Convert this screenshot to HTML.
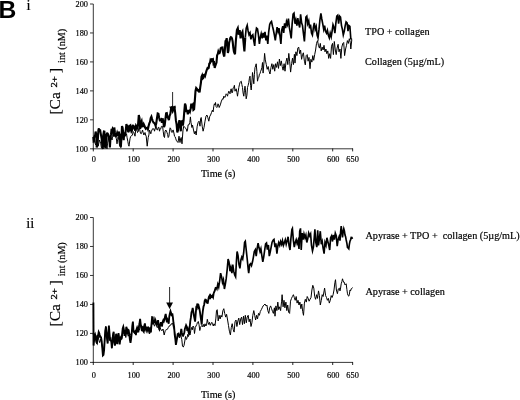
<!DOCTYPE html>
<html><head><meta charset="utf-8"><title>Figure B</title>
<style>
html,body{margin:0;padding:0;background:#fff;}
body{width:520px;height:400px;overflow:hidden;position:relative;}
svg{position:absolute;left:0;top:0;display:block;}
text{font-family:"Liberation Serif",serif;fill:#000;stroke:#000;stroke-width:0.18px;}
.tk{font-size:8.3px;}
.lb{font-size:10.2px;}
.big{font-size:15.5px;}
.sup{font-size:7.9px;stroke-width:0.3px;}
.sub{font-size:10.1px;}
.B{font-family:"Liberation Sans",sans-serif;font-weight:bold;font-size:24.7px;fill:#000;stroke:none;}
.rn{font-size:14.5px;}
</style></head><body>
<svg width="520" height="400" viewBox="0 0 520 400">
<rect width="520" height="400" fill="#fff"/>
<text x="-1.5" y="18.4" class="B">B</text>
<text x="26.6" y="9.7" class="rn">i</text>
<text x="26.2" y="227.8" class="rn">ii</text>
<!-- chart 1 -->
<line x1="93.3" y1="4" x2="93.3" y2="149.3" stroke="#222" stroke-width="0.9"/>
<line x1="92.8" y1="148.8" x2="353" y2="148.8" stroke="#222" stroke-width="0.9"/>
<line x1="90" y1="148.80" x2="93.3" y2="148.80" stroke="#222" stroke-width="0.9"/>
<text x="88.0" y="151.70" text-anchor="end" class="tk">100</text>
<line x1="90" y1="119.84" x2="93.3" y2="119.84" stroke="#222" stroke-width="0.9"/>
<text x="88.0" y="122.74" text-anchor="end" class="tk">120</text>
<line x1="90" y1="90.88" x2="93.3" y2="90.88" stroke="#222" stroke-width="0.9"/>
<text x="88.0" y="93.78" text-anchor="end" class="tk">140</text>
<line x1="90" y1="61.92" x2="93.3" y2="61.92" stroke="#222" stroke-width="0.9"/>
<text x="88.0" y="64.82" text-anchor="end" class="tk">160</text>
<line x1="90" y1="32.96" x2="93.3" y2="32.96" stroke="#222" stroke-width="0.9"/>
<text x="88.0" y="35.86" text-anchor="end" class="tk">180</text>
<line x1="90" y1="4.00" x2="93.3" y2="4.00" stroke="#222" stroke-width="0.9"/>
<text x="88.0" y="6.90" text-anchor="end" class="tk">200</text>
<line x1="93.30" y1="148.5" x2="93.30" y2="151.4" stroke="#111" stroke-width="0.9"/>
<text x="93.90" y="162.3" text-anchor="middle" class="tk">0</text>
<line x1="133.20" y1="148.5" x2="133.20" y2="151.4" stroke="#111" stroke-width="0.9"/>
<text x="133.80" y="162.3" text-anchor="middle" class="tk">100</text>
<line x1="173.10" y1="148.5" x2="173.10" y2="151.4" stroke="#111" stroke-width="0.9"/>
<text x="173.70" y="162.3" text-anchor="middle" class="tk">200</text>
<line x1="213.00" y1="148.5" x2="213.00" y2="151.4" stroke="#111" stroke-width="0.9"/>
<text x="213.60" y="162.3" text-anchor="middle" class="tk">300</text>
<line x1="252.90" y1="148.5" x2="252.90" y2="151.4" stroke="#111" stroke-width="0.9"/>
<text x="253.50" y="162.3" text-anchor="middle" class="tk">400</text>
<line x1="292.80" y1="148.5" x2="292.80" y2="151.4" stroke="#111" stroke-width="0.9"/>
<text x="293.40" y="162.3" text-anchor="middle" class="tk">500</text>
<line x1="332.70" y1="148.5" x2="332.70" y2="151.4" stroke="#111" stroke-width="0.9"/>
<text x="333.30" y="162.3" text-anchor="middle" class="tk">600</text>
<line x1="352.65" y1="148.5" x2="352.65" y2="151.4" stroke="#111" stroke-width="0.9"/>
<text x="346.35" y="162.3" text-anchor="start" class="tk">650</text>
<text x="201" y="177" class="lb">Time (s)</text>
<text transform="translate(60.3,114.60) rotate(-90)" class="big" >[Ca</text>
<text transform="translate(56.9,87.60) rotate(-90) scale(1.35,1)" class="sup">2+</text>
<text transform="translate(60.3,73.00) rotate(-90)" class="big" >]</text>
<text transform="translate(64.6,62.90) rotate(-90)" class="sub" >int (nM)</text>
<polyline fill="none" stroke="#000" stroke-width="1.0" stroke-linejoin="miter" stroke-miterlimit="5" points="93.2,142.5 93.9,140.7 94.5,138.8 95.1,143.3 95.8,145.0 96.4,140.2 97.0,137.5 97.6,143.0 98.2,146.2 98.9,142.8 99.5,140.0 100.1,141.6 100.8,143.8 101.4,147.8 102.0,147.5 102.6,143.9 103.2,140.0 103.9,142.5 104.5,145.0 105.1,142.7 105.8,138.8 106.4,145.0 107.0,148.8 107.6,143.1 108.2,137.5 108.9,140.7 109.5,142.5 110.1,138.3 110.8,136.2 111.4,137.7 112.0,140.0 112.6,136.4 113.2,133.8 113.9,131.6 114.5,132.5 115.1,133.3 115.8,137.5 116.4,138.8 117.0,143.8 117.6,139.7 118.2,136.2 118.9,140.4 119.5,145.0 120.5,147.5 121.5,132.5 122.1,130.9 122.8,130.0 123.4,132.0 124.0,133.8 124.6,133.5 125.2,136.2 125.9,134.9 126.5,133.8 127.1,137.8 127.8,141.2 128.4,144.6 129.0,146.2 130.0,138.8 130.6,136.6 131.2,136.2 131.9,135.2 132.5,135.0 133.1,131.5 133.8,132.5 134.4,133.8 135.0,136.2 135.6,130.7 136.2,130.0 136.9,129.7 137.5,132.5 138.1,131.9 138.8,128.8 139.4,127.5 140.0,131.2 140.6,133.4 141.2,133.8 141.9,132.2 142.5,130.0 143.1,132.2 143.8,135.0 144.4,134.3 145.0,132.5 145.6,135.0 146.2,136.2 147.2,146.2 148.2,137.5 148.9,134.9 149.5,130.0 150.1,131.6 150.8,133.8 151.4,131.2 152.0,130.0 152.6,128.7 153.2,128.8 153.9,128.9 154.5,131.2 155.1,128.7 155.8,126.2 156.4,127.2 157.0,130.0 157.6,129.9 158.2,127.5 158.9,127.3 159.5,131.2 160.1,128.8 160.8,128.8 161.4,126.4 162.0,126.2 162.6,126.4 163.2,131.2 163.9,136.5 164.5,137.5 165.1,131.1 165.8,130.0 166.4,130.9 167.0,132.5 167.6,134.4 168.2,137.5 168.9,136.2 169.5,131.2 170.1,127.8 170.8,128.8 171.4,131.8 172.0,132.5 172.6,130.4 173.2,130.0 173.9,133.0 174.5,136.2 175.1,136.7 175.8,138.8 176.4,140.7 177.0,141.2 178.0,142.5 179.0,136.2 180.0,142.5 180.6,138.7 181.2,137.5 182.0,143.8 183.0,130.0 183.8,126.2 184.4,126.8 185.0,127.5 185.6,128.5 186.2,128.8 186.9,131.4 187.5,130.0 188.1,124.8 188.8,125.0 189.8,122.5 190.4,116.9 191.0,122.5 191.9,127.5 192.5,125.0 193.5,130.0 194.4,133.8 195.2,131.2 196.2,135.0 197.2,126.2 198.1,122.5 199.0,121.2 200.0,126.2 200.6,118.8 201.2,117.5 202.2,126.2 203.1,131.2 204.0,127.5 205.0,121.2 206.0,116.2 206.9,115.0 207.8,117.5 208.8,121.2 209.8,116.2 210.6,115.0 211.5,112.5 212.5,110.0 213.1,111.9 213.8,106.2 214.4,103.8 215.0,105.0 215.5,102.5 216.1,106.7 216.8,107.5 217.4,106.7 218.0,103.8 218.6,105.1 219.2,107.5 220.3,104.9 221.4,101.1 222.5,98.8 223.1,99.3 223.8,96.2 224.4,97.1 225.0,97.5 225.6,95.4 226.2,93.8 226.9,94.7 227.5,96.2 228.1,93.5 228.8,91.2 229.4,92.3 230.0,93.8 230.6,90.3 231.2,88.8 231.9,92.9 232.5,92.5 233.1,87.9 233.8,87.5 234.4,85.3 235.0,91.2 235.6,89.9 236.2,88.8 236.9,92.3 237.5,96.2 238.1,92.3 238.8,87.5 239.4,84.8 240.0,82.5 240.6,81.7 241.2,81.2 241.9,84.7 242.5,87.5 243.1,93.0 243.8,96.2 244.4,90.7 245.0,86.2 245.6,92.1 246.2,98.8 246.9,95.3 247.5,87.5 248.1,85.6 248.8,82.5 249.4,78.3 250.0,76.2 250.6,85.7 251.2,90.0 251.9,82.1 252.5,72.5 253.1,77.5 253.8,83.8 254.4,74.3 255.0,67.5 255.6,66.0 256.2,63.8 256.9,71.6 257.5,81.2 258.1,78.2 258.8,77.5 259.4,74.2 260.0,73.8 260.6,71.3 261.2,70.0 261.9,67.5 262.5,62.5 263.1,73.1 264.0,61.8 264.6,53.4 265.3,59.9 266.3,64.6 267.2,69.3 268.2,66.5 269.1,71.2 270.0,74.0 271.0,67.4 271.9,63.7 272.8,69.3 273.8,64.6 274.7,71.2 275.6,63.7 276.6,67.4 277.5,61.8 278.5,68.4 279.4,59.0 280.3,65.6 281.3,60.9 282.2,66.5 283.1,70.2 284.1,63.7 285.0,71.2 286.0,61.8 286.9,58.1 287.8,64.6 288.8,53.4 289.7,61.8 290.6,72.1 291.6,63.7 292.5,58.1 293.4,64.6 294.4,54.3 295.0,63.1 295.9,51.8 296.9,55.6 297.8,48.1 298.7,47.1 299.7,53.7 300.6,50.0 301.6,59.3 302.5,54.6 303.4,52.8 304.4,61.2 305.3,64.9 306.2,55.6 307.2,54.6 308.1,61.2 309.0,57.4 310.0,68.7 310.9,59.3 311.9,62.1 312.8,55.6 313.7,60.3 314.7,54.6 315.6,50.0 316.5,43.4 317.5,40.6 318.4,45.3 319.4,48.1 320.3,43.4 321.2,50.9 322.2,47.1 323.1,50.0 324.0,45.3 325.0,51.8 325.9,49.0 326.8,53.7 327.8,50.9 328.7,58.4 329.7,53.7 330.6,58.4 331.5,46.2 332.5,43.4 333.4,54.6 334.3,41.5 335.3,50.0 336.2,54.6 337.1,48.1 338.1,44.3 339.0,51.8 340.0,49.0 340.9,58.4 341.8,47.1 342.8,43.4 343.7,42.5 344.6,55.6 345.6,49.0 346.5,45.3 347.4,40.6 348.4,43.4 349.3,38.7 350.3,42.5 350.8,49.0 351.8,39.7"/>
<polyline fill="none" stroke="#000" stroke-width="2.1" stroke-linejoin="miter" stroke-miterlimit="4" points="93.3,137.0 93.8,142.5 94.0,137.6 94.5,136.3 95.1,135.4 95.6,131.6 96.2,134.2 96.7,147.4 97.3,145.1 97.8,140.4 98.4,130.1 98.9,128.4 99.5,131.7 100.0,129.3 100.6,132.9 101.1,135.6 101.7,139.2 102.2,144.4 102.8,149.0 103.3,135.2 103.9,131.5 104.4,131.6 105.0,146.5 105.5,148.2 106.1,140.2 106.6,134.4 107.2,133.4 107.7,133.6 108.3,134.8 108.8,137.0 109.4,138.7 109.9,147.5 110.5,137.5 111.0,134.4 111.6,128.8 112.1,130.8 112.7,128.6 113.2,129.4 113.8,136.7 114.3,127.5 114.9,132.5 115.4,135.5 116.0,136.1 116.5,135.0 117.1,133.0 117.6,134.8 118.2,135.1 118.7,131.6 119.3,133.9 119.8,134.8 120.4,145.6 120.9,145.9 121.5,136.9 122.0,126.1 122.6,127.8 123.1,132.0 123.7,140.2 124.2,132.2 124.8,135.2 125.3,134.4 125.9,129.2 126.4,124.1 127.0,126.5 127.5,126.3 128.1,131.4 128.6,131.5 129.2,130.5 129.7,125.8 130.3,125.4 130.8,129.3 131.4,131.5 131.9,130.7 132.5,126.1 133.0,125.6 133.6,125.9 134.1,128.0 134.7,129.2 135.2,130.6 135.3,129.1 136.0,125.7 136.7,126.9 137.4,129.5 138.1,124.1 138.8,115.1 139.5,118.0 140.2,128.9 140.9,122.7 141.6,121.1 142.3,126.3 143.0,126.1 143.7,124.1 144.4,125.7 145.1,127.5 145.8,128.8 146.5,128.1 147.2,127.7 147.9,129.3 148.6,126.1 149.3,123.4 150.0,121.9 150.7,118.0 151.4,116.6 152.1,119.0 152.8,121.1 153.5,122.5 154.2,123.0 154.9,123.9 155.6,125.9 156.3,123.0 157.0,118.0 157.7,113.4 158.4,113.7 159.1,117.5 159.8,120.2 160.5,119.9 161.2,119.4 161.9,122.9 162.6,118.3 163.3,121.6 164.0,127.1 164.7,125.2 165.4,119.2 166.1,113.3 166.8,113.1 167.5,117.2 168.2,118.1 168.9,120.1 169.6,115.8 170.3,114.1 171.0,109.3 171.7,107.3 172.4,106.8 173.1,108.3 173.8,107.9 174.5,107.3 175.2,112.9 175.9,120.4 176.6,124.4 177.3,132.3 178.0,130.3 178.7,123.8 179.4,120.3 180.1,124.2 180.8,131.3 181.5,121.4 182.2,121.1 182.9,125.5 183.6,120.2 184.3,111.4 185.0,103.6 185.7,105.5 186.4,112.1 187.1,109.8 187.8,114.4 188.5,111.0 189.2,110.7 189.9,111.9 190.6,108.9 191.3,103.7 192.0,106.1 192.7,104.9 193.4,109.9 194.1,109.3 194.8,100.8 195.5,90.9 196.2,87.9 196.9,88.7 197.6,90.4 198.3,90.1 199.0,91.6 199.7,91.5 200.2,87.5 200.3,86.9 200.9,82.8 201.5,76.8 202.1,75.5 202.7,78.7 203.3,78.1 203.9,74.9 204.5,74.6 205.1,75.8 205.7,73.7 206.3,71.3 206.9,69.5 207.5,68.1 208.1,68.5 208.7,68.0 209.3,63.6 209.9,63.4 210.5,60.1 211.1,60.9 211.7,59.3 212.3,59.5 212.9,59.2 213.5,63.7 214.1,63.1 214.7,67.9 215.3,65.8 215.9,64.2 216.5,62.5 217.1,55.4 217.7,54.2 218.3,51.6 218.9,53.2 219.5,53.2 220.1,51.8 220.7,48.2 221.3,47.7 221.9,47.6 222.5,47.5 223.1,52.3 223.7,55.0 224.3,56.5 224.9,49.5 225.5,41.0 226.1,40.5 226.7,38.2 227.3,45.8 227.9,52.9 228.5,50.5 229.1,42.9 229.7,40.6 230.3,38.0 230.9,37.1 231.5,37.4 232.1,38.9 232.7,41.8 233.3,47.6 233.9,51.5 234.2,52.5 235.0,54.3 235.9,40.3 236.9,30.0 237.8,28.1 238.7,34.7 239.7,30.0 240.6,38.4 241.6,33.7 242.5,31.8 243.4,41.2 244.4,51.5 245.3,37.5"/>
<polyline fill="none" stroke="#000" stroke-width="1.65" stroke-linejoin="miter" stroke-miterlimit="5" points="245.3,37.5 246.2,28.1 247.2,25.3 248.1,30.9 249.0,34.7 250.0,32.8 250.9,39.3 251.9,35.6 252.8,34.7 253.7,40.3 254.7,45.9 255.6,33.7 256.5,28.1 257.5,29.0 258.4,34.7 259.4,44.0 260.3,37.5 261.2,33.7 262.2,38.4 263.1,32.8 264.0,37.5 265.0,31.8 265.9,40.3 266.8,35.6 267.8,44.0 268.7,31.8 269.7,24.4 270.6,22.5 271.5,21.5 272.5,26.2 273.4,30.0 274.3,34.7 275.3,40.3 276.2,33.7 277.1,27.2 278.1,31.8 279.0,28.1 280.0,36.5 280.9,44.0 281.8,30.0 282.8,26.2 283.7,32.8 284.6,23.4 285.6,28.1 286.5,21.5 287.4,24.4 288.4,18.7 289.3,27.2 290.3,32.8 291.2,38.4 292.1,24.4 293.1,14.0 294.0,13.1 295.0,23.7 295.9,20.0 296.9,25.6 297.8,18.1 298.7,23.7 299.7,27.5 300.6,14.4 301.6,22.8 302.5,25.6 303.4,33.1 304.4,41.5 305.3,27.5 305.9,17.2 306.8,16.2 307.7,23.7 308.7,20.9 309.6,28.4 310.5,24.7 311.5,33.1 312.4,35.0 313.4,27.5 314.3,22.8 315.2,29.4 316.2,26.5 317.1,35.0 318.0,37.8 319.0,29.4 319.9,20.0 320.9,13.4 321.8,19.0 322.7,23.7 323.7,29.4 324.6,25.6 325.5,31.2 326.5,33.1 327.4,30.3 328.3,35.0 329.3,37.8 330.2,33.1 331.2,36.8 332.1,31.2 333.0,24.7 334.0,27.5 334.9,33.1 335.8,23.7 336.8,16.2 337.7,15.3 338.6,23.7 339.6,16.2 340.5,17.2 341.5,25.6 342.4,29.4 343.3,35.0 344.3,31.2 345.2,25.6 346.1,21.9 347.1,22.8 348.0,31.2 348.9,25.6 349.9,26.5 350.8,38.7 351.8,39.7"/>
<line x1="172.6" y1="92" x2="172.6" y2="108" stroke="#111" stroke-width="0.9"/>
<polygon points="169.2,106.6 176.0,106.6 172.6,114" fill="#000"/>
<text x="365" y="35" class="lb">TPO + collagen</text>
<text x="365" y="65" class="lb">Collagen (5µg/mL)</text>
<!-- chart 2 -->
<line x1="93.3" y1="217.5" x2="93.3" y2="362.9" stroke="#222" stroke-width="0.9"/>
<line x1="92.8" y1="362.4" x2="353" y2="362.4" stroke="#222" stroke-width="0.9"/>
<line x1="90" y1="362.40" x2="93.3" y2="362.40" stroke="#222" stroke-width="0.9"/>
<text x="88.0" y="365.30" text-anchor="end" class="tk">100</text>
<line x1="90" y1="333.42" x2="93.3" y2="333.42" stroke="#222" stroke-width="0.9"/>
<text x="88.0" y="336.32" text-anchor="end" class="tk">120</text>
<line x1="90" y1="304.44" x2="93.3" y2="304.44" stroke="#222" stroke-width="0.9"/>
<text x="88.0" y="307.34" text-anchor="end" class="tk">140</text>
<line x1="90" y1="275.46" x2="93.3" y2="275.46" stroke="#222" stroke-width="0.9"/>
<text x="88.0" y="278.36" text-anchor="end" class="tk">160</text>
<line x1="90" y1="246.48" x2="93.3" y2="246.48" stroke="#222" stroke-width="0.9"/>
<text x="88.0" y="249.38" text-anchor="end" class="tk">180</text>
<line x1="90" y1="217.50" x2="93.3" y2="217.50" stroke="#222" stroke-width="0.9"/>
<text x="88.0" y="220.40" text-anchor="end" class="tk">200</text>
<line x1="93.30" y1="362.09999999999997" x2="93.30" y2="365.0" stroke="#111" stroke-width="0.9"/>
<text x="93.90" y="378" text-anchor="middle" class="tk">0</text>
<line x1="133.20" y1="362.09999999999997" x2="133.20" y2="365.0" stroke="#111" stroke-width="0.9"/>
<text x="133.80" y="378" text-anchor="middle" class="tk">100</text>
<line x1="173.10" y1="362.09999999999997" x2="173.10" y2="365.0" stroke="#111" stroke-width="0.9"/>
<text x="173.70" y="378" text-anchor="middle" class="tk">200</text>
<line x1="213.00" y1="362.09999999999997" x2="213.00" y2="365.0" stroke="#111" stroke-width="0.9"/>
<text x="213.60" y="378" text-anchor="middle" class="tk">300</text>
<line x1="252.90" y1="362.09999999999997" x2="252.90" y2="365.0" stroke="#111" stroke-width="0.9"/>
<text x="253.50" y="378" text-anchor="middle" class="tk">400</text>
<line x1="292.80" y1="362.09999999999997" x2="292.80" y2="365.0" stroke="#111" stroke-width="0.9"/>
<text x="293.40" y="378" text-anchor="middle" class="tk">500</text>
<line x1="332.70" y1="362.09999999999997" x2="332.70" y2="365.0" stroke="#111" stroke-width="0.9"/>
<text x="333.30" y="378" text-anchor="middle" class="tk">600</text>
<line x1="352.65" y1="362.09999999999997" x2="352.65" y2="365.0" stroke="#111" stroke-width="0.9"/>
<text x="346.35" y="378" text-anchor="start" class="tk">650</text>
<text x="201" y="397.5" class="lb">Time (s)</text>
<text transform="translate(60.3,326.40) rotate(-90)" class="big" >[Ca</text>
<text transform="translate(56.9,299.60) rotate(-90) scale(1.35,1)" class="sup">2+</text>
<text transform="translate(60.3,285.20) rotate(-90)" class="big" >]</text>
<text transform="translate(64.6,276.20) rotate(-90)" class="sub" >int (nM)</text>
<polyline fill="none" stroke="#000" stroke-width="1.0" stroke-linejoin="miter" stroke-miterlimit="5" points="93.2,333.8 93.9,337.5 94.5,341.2 95.1,339.8 95.8,337.5 96.4,340.2 97.0,343.8 97.6,340.3 98.2,336.2 98.9,340.3 99.5,342.5 100.1,341.0 100.8,338.8 101.4,343.4 102.0,345.0 102.6,348.5 103.2,353.8 103.9,348.2 104.5,342.5 105.1,333.7 105.8,326.2 106.4,330.5 107.0,336.2 107.6,334.2 108.2,332.5 108.9,336.5 109.5,340.0 110.1,339.2 110.8,337.5 111.4,341.1 112.0,343.8 112.6,342.2 113.2,336.2 113.9,340.8 114.5,343.8 115.1,340.3 115.8,340.0 116.4,342.1 117.0,343.8 117.6,339.4 118.2,336.2 118.9,338.2 119.5,341.2 120.1,341.9 120.8,340.0 121.4,339.2 122.0,338.8 122.6,334.3 123.2,333.8 123.9,332.2 124.5,330.0 125.1,333.5 125.8,337.5 126.4,333.8 127.0,332.5 127.6,333.5 128.2,336.2 128.9,334.4 129.5,333.8 130.1,334.4 130.8,335.0 131.4,332.7 132.0,331.2 132.6,329.4 133.2,327.5 133.9,332.4 134.5,333.8 135.1,331.1 135.8,330.0 136.4,330.5 137.0,332.5 137.6,329.8 138.2,327.5 138.9,329.8 139.5,330.0 140.1,326.8 140.8,325.0 141.4,328.3 142.0,328.8 142.6,326.2 143.2,326.2 143.9,327.7 144.5,331.2 145.1,329.3 145.8,327.5 146.4,328.5 147.0,331.2 147.6,328.8 148.2,327.5 148.9,331.1 149.5,333.8 150.1,332.0 150.8,328.8 151.4,325.7 152.0,322.5 152.6,321.0 153.2,320.0 153.9,324.4 154.5,326.2 155.1,324.8 155.8,322.5 156.4,324.8 157.0,327.5 157.6,327.4 158.2,325.0 158.9,327.2 159.5,331.2 160.0,327.5 160.8,329.2 161.5,330.5 162.3,330.4 163.0,329.0 163.6,332.0 164.2,335.0 165.3,330.5 166.0,329.6 166.8,329.8 167.5,329.0 168.3,327.5 169.0,326.2 169.8,326.0 170.5,324.7 171.3,324.5 172.0,323.1 172.8,323.8 173.5,327.7 174.3,329.0 175.0,334.5 175.8,341.0 176.5,339.9 177.3,336.5 178.3,335.0 178.9,336.9 179.5,338.0 180.1,336.3 180.7,335.0 181.8,339.5 182.5,346.3 183.3,347.0 184.0,345.5 184.8,341.0 185.5,336.5 186.3,339.5 187.0,338.0 187.8,334.3 188.5,336.5 189.3,333.5 190.0,335.0 190.8,330.5 191.5,327.5 192.3,329.8 193.0,326.0 193.8,326.8 194.5,333.5 195.3,327.5 196.0,326.0 196.8,324.5 197.5,322.3 198.3,321.5 199.0,324.5 199.8,330.5 200.5,327.5 201.3,326.0 202.0,325.3 202.8,326.8 203.5,324.5 204.3,326.8 205.0,323.8 205.8,326.0 206.5,325.3 207.3,319.3 208.0,322.3 208.8,324.5 209.5,322.3 210.3,325.3 211.0,323.8 211.8,322.3 212.5,323.8 213.3,326.0 214.0,323.8 215.0,325.6 215.9,318.1 216.5,310.6 217.2,309.7 218.2,320.9 219.1,315.3 220.1,319.0 221.0,315.3 221.9,317.1 222.9,310.6 223.8,308.7 224.7,313.4 225.7,317.1 226.6,314.3 227.6,320.0 228.5,325.6 229.4,331.2 230.4,334.9 231.3,327.4 232.2,323.7 233.2,329.3 234.1,332.1 235.0,321.8 236.0,320.0 236.9,326.5 237.9,320.9 238.8,318.1 239.7,324.6 240.7,319.0 241.6,317.1 242.5,324.6 243.5,316.2 244.4,323.7 245.3,315.3 246.3,322.8 247.2,317.1 248.2,315.3 249.1,321.8 250.0,319.0 251.0,326.5 251.9,322.8 252.8,315.3 253.8,310.6 254.7,315.3 255.6,320.0 256.6,315.3 257.5,319.0 258.5,313.4 259.4,315.3 260.3,311.5 261.3,309.7 262.2,307.8 263.1,305.9 264.1,305.0 265.0,304.0 266.0,305.9 266.9,305.0 267.8,310.6 268.8,313.4 269.7,307.8 270.6,305.9 271.6,308.7 272.5,311.5 273.4,313.4 274.4,307.8 275.0,316.2 275.9,305.9 276.9,310.6 277.8,302.1 278.7,309.6 279.7,306.8 280.6,310.6 281.6,301.2 282.1,294.7 283.1,306.8 284.0,300.3 284.9,307.8 285.9,302.1 286.8,310.6 287.7,305.0 288.7,312.4 289.6,313.4 290.5,301.2 291.5,298.4 292.4,296.5 293.4,294.7 294.3,297.5 295.2,300.3 296.2,296.5 297.1,303.1 298.0,300.3 299.0,305.0 299.9,302.1 300.9,308.7 301.8,304.0 302.7,311.5 303.5,315.3 304.4,303.1 305.3,299.3 306.3,302.1 307.2,296.5 308.2,298.4 309.1,301.2 310.0,299.3 311.0,297.5 311.9,290.0 312.8,285.3 313.8,288.1 314.7,296.5 315.6,299.3 316.6,294.7 317.5,298.4 318.5,290.9 319.4,295.6 320.3,305.0 321.3,300.3 322.2,294.7 323.1,296.5 324.1,290.9 324.6,288.1 325.6,295.6 326.5,297.5 327.4,300.3 328.4,298.4 329.3,303.1 330.3,300.3 331.2,295.6 332.1,297.5 333.1,294.7 334.0,290.0 334.9,282.5 335.5,279.7 336.4,290.0 337.4,293.7 338.3,289.0 339.3,288.1 340.0,290.9 340.6,288.0 341.2,283.8 341.9,281.5 342.5,278.8 343.1,280.8 343.8,282.5 344.4,282.4 345.0,285.0 345.6,284.4 346.2,283.8 346.9,289.6 347.5,293.8 348.1,295.5 348.8,296.2 349.4,294.1 350.0,290.0 350.6,290.8 351.2,288.8 351.9,288.5 352.5,287.5"/>
<polyline fill="none" stroke="#000" stroke-width="1.85" stroke-linejoin="miter" stroke-miterlimit="4" points="93.4,302.5 93.6,345.6 94.5,335.3 94.5,336.3 95.1,334.7 95.7,337.2 96.3,341.9 96.9,342.8 97.5,335.7 98.1,335.5 98.7,332.1 99.3,333.4 99.9,336.7 100.5,336.6 101.1,337.6 101.7,341.1 102.3,348.1 102.9,355.4 103.5,354.8 104.1,350.1 104.7,339.7 105.3,330.5 105.9,326.9 106.5,333.2 107.1,339.6 107.7,343.5 108.3,333.9 108.9,325.5 109.5,333.2 110.1,340.2 110.7,340.4 111.3,341.7 111.9,348.3 112.5,340.6 113.1,334.0 113.7,331.8 114.3,342.4 114.9,345.6 115.5,341.2 116.1,333.8 116.7,336.3 117.3,344.1 117.9,337.5 118.5,333.1 119.1,337.3 119.7,344.4 120.3,338.9 120.9,337.2 121.5,337.9 122.1,334.1 122.7,328.5 123.3,326.8 123.9,329.7 124.5,335.8 125.1,333.6 125.7,333.0 126.3,326.9 126.9,328.6 127.5,334.1 128.1,329.7 128.7,330.2 129.3,334.5 129.9,339.9 130.5,342.8 131.1,338.9 131.7,333.5 132.3,325.8 132.9,321.6 133.5,330.7 134.1,332.1 134.7,332.3 135.3,330.7 135.9,335.1 136.5,329.4 137.1,327.7 137.7,329.5 138.3,332.4 138.9,326.9 139.5,323.5 140.1,318.9 140.7,324.1 141.3,326.7 141.9,331.0 142.5,326.7 143.1,331.0 143.7,331.8 144.3,325.7 144.9,323.4 145.5,328.4 146.1,330.1 146.7,326.6 147.3,329.1 147.9,330.8 148.5,328.1 149.1,329.0 149.7,330.7 150.3,327.3 150.9,332.4 151.5,324.0 152.1,317.1 152.7,317.2 153.3,324.4 153.9,320.5 154.5,322.7 155.1,319.3 155.7,320.7 156.3,323.9 156.9,324.2 157.5,322.6 158.1,320.1 158.7,325.6 159.3,329.5 159.9,325.6 160.3,324.6 160.9,322.2 161.5,325.7 162.1,325.8 162.7,321.7 163.3,320.2 163.9,321.3 164.5,319.6 165.1,316.3 165.7,314.0 166.3,318.2 166.9,322.4 167.5,319.4 168.1,320.4 168.7,323.8 169.3,316.3 169.9,313.5 170.5,311.2 171.1,312.9 171.7,316.2 172.3,313.3 172.9,317.4 173.5,323.0 174.1,326.6 174.7,334.7 175.3,338.9 175.9,344.8 176.5,341.5 177.1,337.8 177.7,334.1 178.3,333.7 178.9,335.5 179.5,335.9 180.1,335.5 180.7,332.8 181.3,328.8 181.9,332.9 182.5,335.5 183.1,335.8 183.7,334.4 184.3,332.8 184.9,328.7 185.5,327.2 186.1,325.3 186.7,326.5 187.3,331.0 187.9,329.3 188.5,331.9 189.1,334.4 189.7,327.4 190.3,321.0 190.9,317.4 191.5,312.3 192.1,311.0 192.7,308.0 193.3,311.4 193.9,315.5 194.5,318.5 195.1,321.7 195.7,314.2 196.3,306.8 196.9,305.6 197.5,303.6 198.1,307.3 198.7,306.0 199.3,308.1 199.9,311.7 200.5,315.8 201.1,320.0 201.7,324.7 202.3,316.0 202.9,310.5 203.5,306.6 204.1,305.0 204.7,300.8 205.3,299.6 205.9,299.7 206.5,301.9 207.1,301.4 207.7,303.7 208.3,299.7 208.9,296.8 209.5,295.8 210.1,299.1 210.7,295.5 211.3,296.3 211.9,296.8 212.5,295.8 213.1,297.1 213.7,293.2 214.5,291.5 215.0,289.9 215.9,287.1"/>
<polyline fill="none" stroke="#000" stroke-width="1.65" stroke-linejoin="miter" stroke-miterlimit="5" points="215.9,287.1 216.9,289.0 217.8,284.3 218.7,287.1 219.7,280.6 220.6,273.1 221.6,276.8 222.5,282.4 223.4,279.6 224.4,289.0 225.3,284.3 226.2,278.7 227.2,269.3 228.1,259.0 229.0,261.8 230.0,271.2 230.9,267.4 231.9,273.1 232.8,264.6 233.7,271.2 234.7,274.9 235.6,276.8 236.5,260.0 237.1,251.5 238.0,255.3 239.0,264.6 239.9,268.4 240.9,260.0 241.8,257.1 242.7,259.0 243.7,252.5 244.6,242.2 245.3,241.2 246.3,250.6 247.2,259.0 248.2,269.3 248.7,273.1 249.7,264.6 250.6,263.7 251.5,265.6 252.5,261.8 253.4,257.1 254.3,251.5 255.3,249.7 256.2,256.2 257.1,248.7 258.1,243.1 259.0,247.8 260.0,251.5 260.9,248.7 261.8,255.3 262.8,261.8 263.7,257.1 264.6,250.6 265.6,244.0 266.5,243.1 267.4,249.7 268.4,245.0 269.3,256.2 270.3,251.5 271.2,246.8 272.1,242.2 273.1,240.3 274.0,239.4 275.0,247.1 275.9,243.4 276.9,253.7 277.8,246.2 278.7,242.5 279.7,245.3 280.6,241.5 281.6,244.3 282.5,240.6 283.4,245.3 284.4,242.5 285.3,239.7 286.2,244.3 287.2,240.6 288.1,236.8 289.0,245.3 290.0,250.0 290.9,238.7 291.9,229.4 292.4,228.4 293.4,240.6 294.3,247.1 295.2,242.5 296.2,239.7 297.1,243.4 298.0,240.6 299.0,249.0 299.7,231.2 300.5,228.4 301.2,250.0 302.2,233.1 303.1,239.7 304.0,234.0 305.0,237.8 305.9,235.0 306.8,242.5 307.8,238.7 308.7,233.1 309.7,235.9 310.6,234.0 311.5,245.3 312.5,250.9 313.4,247.1 314.3,236.8 314.9,229.4 315.8,242.5 316.8,247.1 317.7,230.3 318.5,245.3 319.4,238.7 320.3,231.2 321.3,244.3 322.2,241.5 323.1,248.1 324.1,253.7 325.0,242.5 326.0,245.3 326.9,237.8 327.8,241.5 328.8,245.3 329.7,250.0 330.6,237.8 331.6,235.9 332.5,241.5 333.4,235.0 334.4,239.7 335.3,233.1 336.3,235.9 337.2,246.2 338.1,239.7 339.1,236.8 340.0,240.6 340.6,232.1 341.2,226.2 341.9,231.5 342.5,237.5 343.1,232.4 343.8,228.8 344.4,230.9 345.0,235.0 345.6,236.7 346.2,240.0 346.9,243.3 347.5,247.5 348.1,247.9 348.8,248.8 349.4,244.2 350.0,241.2 350.6,239.8 351.2,237.5 351.9,237.6 352.5,238.8"/>
<line x1="169.6" y1="287" x2="169.6" y2="304" stroke="#111" stroke-width="0.9"/>
<polygon points="166.2,302.5 173,302.5 169.6,309" fill="#000"/>
<text x="365.5" y="238.5" class="lb" style="white-space:pre">Apyrase + TPO +  collagen (5µg/mL)</text>
<text x="365.5" y="294.8" class="lb">Apyrase + collagen</text>
</svg>
</body></html>
